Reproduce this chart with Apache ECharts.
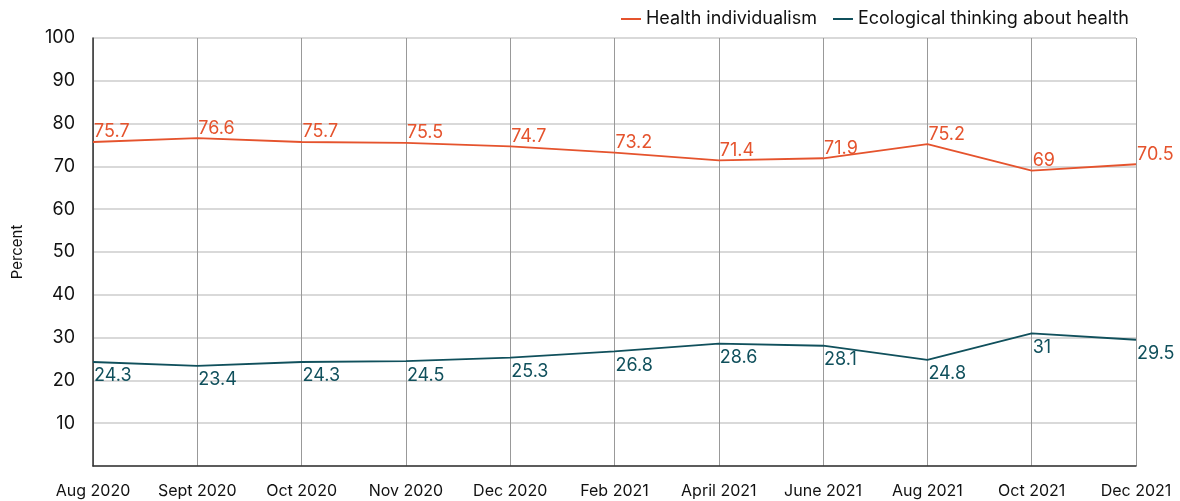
<!DOCTYPE html>
<html>
<head>
<meta charset="utf-8">
<script src="https://cdn.jsdelivr.net/npm/echarts@6/dist/echarts.min.js"></script>
<style>
html, body { margin: 0; padding: 0; background: #fff; }
#main { width: 1180px; height: 501px; }
</style>
</head>
<body>
<div id="main"></div>
<script>
var months = ['Aug 2020', 'Sept 2020', 'Oct 2020', 'Nov 2020', 'Dec 2020', 'Feb 2021', 'April 2021', 'June 2021', 'Aug 2021', 'Oct 2021', 'Dec 2021'];
var individualism = [75.7, 76.6, 75.7, 75.5, 74.7, 73.2, 71.4, 71.9, 75.2, 69, 70.5];
var ecological = [24.3, 23.4, 24.3, 24.5, 25.3, 26.8, 28.6, 28.1, 24.8, 31, 29.5];

var orange = '#e5532d';
var teal = '#10505c';
var font = 'Inter';

var chart = echarts.init(document.getElementById('main'));
chart.setOption({
	animation: false,
	textStyle: { fontFamily: font },
	grid: { left: 93, right: 44, top: 38, bottom: 35, containLabel: false },
	legend: {
		right: 46,
		top: 5,
		itemWidth: 20,
		itemHeight: 2,
		itemGap: 16,
		icon: 'rect',
		textStyle: { fontFamily: font, fontSize: 18, color: '#111' },
		data: ['Health individualism', 'Ecological thinking about health']
	},
	xAxis: {
		type: 'category',
		data: months,
		boundaryGap: false,
		axisLine: { lineStyle: { color: '#333', width: 1.5 } },
		axisTick: { show: false },
		axisLabel: { color: '#111', fontSize: 16, margin: 17, interval: 0 },
		splitLine: { show: true, lineStyle: { color: '#999', width: 1 } }
	},
	yAxis: {
		type: 'value',
		min: 0,
		max: 100,
		interval: 10,
		name: 'Percent',
		nameLocation: 'middle',
		nameGap: 68,
		nameTextStyle: { color: '#111', fontSize: 15, fontFamily: font },
		axisLine: { show: true, lineStyle: { color: '#333', width: 1.5 } },
		axisTick: { show: false },
		axisLabel: {
			color: '#111', fontSize: 18, margin: 18,
			formatter: function (v) { return v === 0 ? '' : v; }
		},
		splitLine: { lineStyle: { color: '#ccc', width: 1.5 } }
	},
	series: [{
		name: 'Health individualism',
		type: 'line',
		data: individualism,
		symbol: 'circle',
		symbolSize: 0.1,
		lineStyle: { color: orange, width: 1.8 },
		itemStyle: { color: orange },
		label: {
			show: true,
			position: 'top',
			align: 'left',
			offset: [1, 0],
			distance: 1,
			color: orange,
			fontSize: 18,
			fontFamily: font
		}
	}, {
		name: 'Ecological thinking about health',
		type: 'line',
		data: ecological,
		symbol: 'circle',
		symbolSize: 0.1,
		lineStyle: { color: teal, width: 1.8 },
		itemStyle: { color: teal },
		label: {
			show: true,
			position: 'bottom',
			align: 'left',
			offset: [1, 0],
			distance: 5,
			color: teal,
			fontSize: 18,
			fontFamily: font
		}
	}]
});
</script>
</body>
</html>
